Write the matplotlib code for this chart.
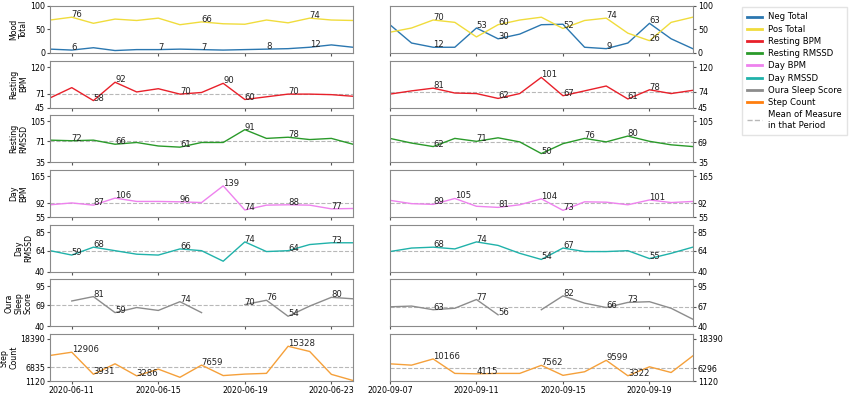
import matplotlib

matplotlib.use("Agg")
import matplotlib.pyplot as plt
import matplotlib.dates as mdates
import numpy as np
import pandas as pd

nan = np.nan

# two 15-day periods
DATES_A = pd.date_range("2020-06-10", "2020-06-24", freq="D")
DATES_B = pd.date_range("2020-09-07", "2020-09-21", freq="D")
TICKS_A = ["2020-06-11", "2020-06-15", "2020-06-19", "2020-06-23"]
TICKS_B = ["2020-09-07", "2020-09-11", "2020-09-15", "2020-09-19"]

NEG_A = [8, 6, 11, 5, 7, 7, 8, 7, 6, 7, 8, 9, 12, 17, 12]
POS_A = [70, 76, 63, 72, 69, 74, 60, 66, 62, 61, 70, 64, 74, 70, 69]
NEG_B = [60, 21, 12, 12, 53, 30, 40, 60, 61, 12, 9, 21, 63, 30, 9]
POS_B = [44, 53, 70, 65, 34, 60, 70, 76, 52, 69, 74, 42, 26, 65, 76]

REST_BPM_A = [63, 82, 58, 92, 74, 80, 70, 73, 90, 60, 65, 70, 70, 69, 66]
REST_BPM_B = [70, 76, 81, 72, 71, 62, 71, 101, 67, 76, 85, 61, 78, 71, 77]
REST_RMSSD_A = [73, 72, 73, 66, 69, 63, 61, 69, 69, 91, 76, 78, 74, 76, 66]
REST_RMSSD_B = [76, 68, 62, 76, 71, 77, 70, 50, 67, 76, 70, 80, 71, 65, 62]
DAY_BPM_A = [88, 93, 87, 106, 97, 97, 96, 94, 139, 74, 87, 88, 87, 77, 78]
DAY_BPM_B = [100, 91, 89, 105, 84, 81, 88, 104, 73, 96, 95, 88, 101, 94, 97]
DAY_RMSSD_A = [64, 59, 68, 64, 60, 59, 66, 64, 52, 74, 63, 64, 71, 73, 73]
DAY_RMSSD_B = [63, 67, 68, 66, 74, 70, 61, 54, 67, 63, 63, 64, 55, 61, 68]
OURA_A = [nan, 75, 81, 59, 66, 62, 74, 59, nan, 70, 76, 54, 68, 80, 78]
OURA_B = [67, 68, 63, 65, 77, 56, nan, 63, 82, 72, 66, 73, 74, 65, 50]
STEPS_A = [11593, 12906, 3931, 8194, 3286, 6019, 2700, 7659, 3400, 4000, 4300, 15328, 13200, 3900, 1400]
STEPS_B = [8180, 7640, 10166, 4280, 4115, 4280, 4280, 7562, 3490, 4950, 9599, 3322, 6970, 4650, 11400]

# which points carry a value label
LBL_NEG_A = [1, 5, 7, 10, 12]
LBL_POS_A = [1, 7, 12]
LBL_NEG_B = [2, 4, 5, 10, 12]
LBL_POS_B = [2, 5, 8, 10, 12]

ROWS = [
    # label, color, A values, B values, A labels, B labels, A ticks, B ticks
    ("Resting\nBPM", "#e8202a", REST_BPM_A, REST_BPM_B, [2, 3, 6, 8, 9, 11], [2, 5, 7, 8, 11, 12],
     [45, 71, 120], [45, 74, 120]),
    ("Resting\nRMSSD", "#2a9a2a", REST_RMSSD_A, REST_RMSSD_B, [1, 3, 6, 9, 11], [2, 4, 7, 9, 11],
     [35, 71, 105], [35, 69, 105]),
    ("Day\nBPM", "#ee82ee", DAY_BPM_A, DAY_BPM_B, [2, 3, 6, 8, 9, 11, 13], [2, 3, 5, 7, 8, 12],
     [55, 92, 165], [55, 92, 165]),
    ("Day\nRMSSD", "#20b2aa", DAY_RMSSD_A, DAY_RMSSD_B, [1, 2, 6, 9, 11, 13], [2, 4, 7, 8, 12],
     [40, 64, 85], [40, 64, 85]),
    ("Oura\nSleep\nScore", "#8c8c8c", OURA_A, OURA_B, [2, 3, 6, 9, 10, 11, 13], [2, 4, 5, 8, 10, 11],
     [40, 69, 95], [40, 67, 95]),
    ("Step\nCount", "#f5a03a", STEPS_A, STEPS_B, [1, 2, 4, 7, 11], [2, 4, 7, 10, 11],
     [1120, 6835, 18390], [1120, 6296, 18390]),
]

NEG_COLOR = "#2b77b0"
POS_COLOR = "#f0dc3c"
FS = 6.1
TICK_FS = 5.7


def style_axis(ax, right):
    for sp in ax.spines.values():
        sp.set_color("#8a8a8a")
    ax.tick_params(labelsize=TICK_FS, length=2.5, color="#555555", pad=1.2)
    if right:
        ax.yaxis.tick_right()


def put_labels(ax, dates, values, idx):
    for i in idx:
        ax.text(dates[i], values[i], str(int(round(values[i]))), fontsize=FS, color="#222222")


fig, axes = plt.subplots(7, 2, figsize=(8.5, 3.95), dpi=100)
fig.subplots_adjust(left=0.059, right=0.815, top=0.985, bottom=0.035, hspace=0.165, wspace=0.122)

for col, (dates, ticks) in enumerate([(DATES_A, TICKS_A), (DATES_B, TICKS_B)]):
    neg, pos = (NEG_A, POS_A) if col == 0 else (NEG_B, POS_B)
    lneg, lpos = (LBL_NEG_A, LBL_POS_A) if col == 0 else (LBL_NEG_B, LBL_POS_B)
    ax = axes[0, col]
    ax.plot(dates, neg, color=NEG_COLOR, lw=1)
    ax.plot(dates, pos, color=POS_COLOR, lw=1)
    put_labels(ax, dates, neg, lneg)
    put_labels(ax, dates, pos, lpos)
    ax.set_ylim(0, 100)
    ax.set_yticks([0, 50, 100])
    if col == 0:
        ax.set_ylabel("Mood\nTotal", fontsize=TICK_FS, labelpad=1.5, linespacing=1.1)
    style_axis(ax, col == 1)

    for r, (name, color, va, vb, la, lb, ta, tb) in enumerate(ROWS, start=1):
        ax = axes[r, col]
        vals, lbl, yt = (va, la, ta) if col == 0 else (vb, lb, tb)
        ax.axhline(yt[1], color="#b8b8b8", ls="--", lw=0.8)
        ax.plot(dates, vals, color=color, lw=1)
        put_labels(ax, dates, vals, lbl)
        ax.set_ylim(yt[0], yt[2] * 1.1)
        ax.set_yticks(yt)
        if col == 0:
            ax.set_ylabel(name, fontsize=TICK_FS, labelpad=1.5, linespacing=1.1)
        style_axis(ax, col == 1)

    for ax in axes[:, col]:
        ax.set_xlim(dates[0], dates[-1])
        ax.set_xticks(pd.to_datetime(ticks))
        ax.xaxis.set_major_formatter(mdates.DateFormatter("%Y-%m-%d"))
        if ax is not axes[-1, col]:
            ax.tick_params(labelbottom=False)

handles = [
    plt.Line2D([], [], color=NEG_COLOR, lw=2),
    plt.Line2D([], [], color=POS_COLOR, lw=2),
] + [plt.Line2D([], [], color=row[1], lw=2) for row in ROWS[:4]] + [
    plt.Line2D([], [], color="#8c8c8c", lw=2),
    plt.Line2D([], [], color="#ff7f0e", lw=2),
    plt.Line2D([], [], color="#b8b8b8", lw=1, ls="--"),
]
names = ["Neg Total", "Pos Total", "Resting BPM", "Resting RMSSD", "Day BPM", "Day RMSSD",
         "Oura Sleep Score", "Step Count", "Mean of Measure\nin that Period"]
fig.legend(handles, names, loc="upper left", bbox_to_anchor=(0.868, 0.992), fontsize=FS,
           handlelength=1.8, handletextpad=0.7, labelspacing=0.38, borderpad=0.6,
           frameon=True, fancybox=False, edgecolor="#dddddd")

fig.savefig("out.png", dpi=100)
